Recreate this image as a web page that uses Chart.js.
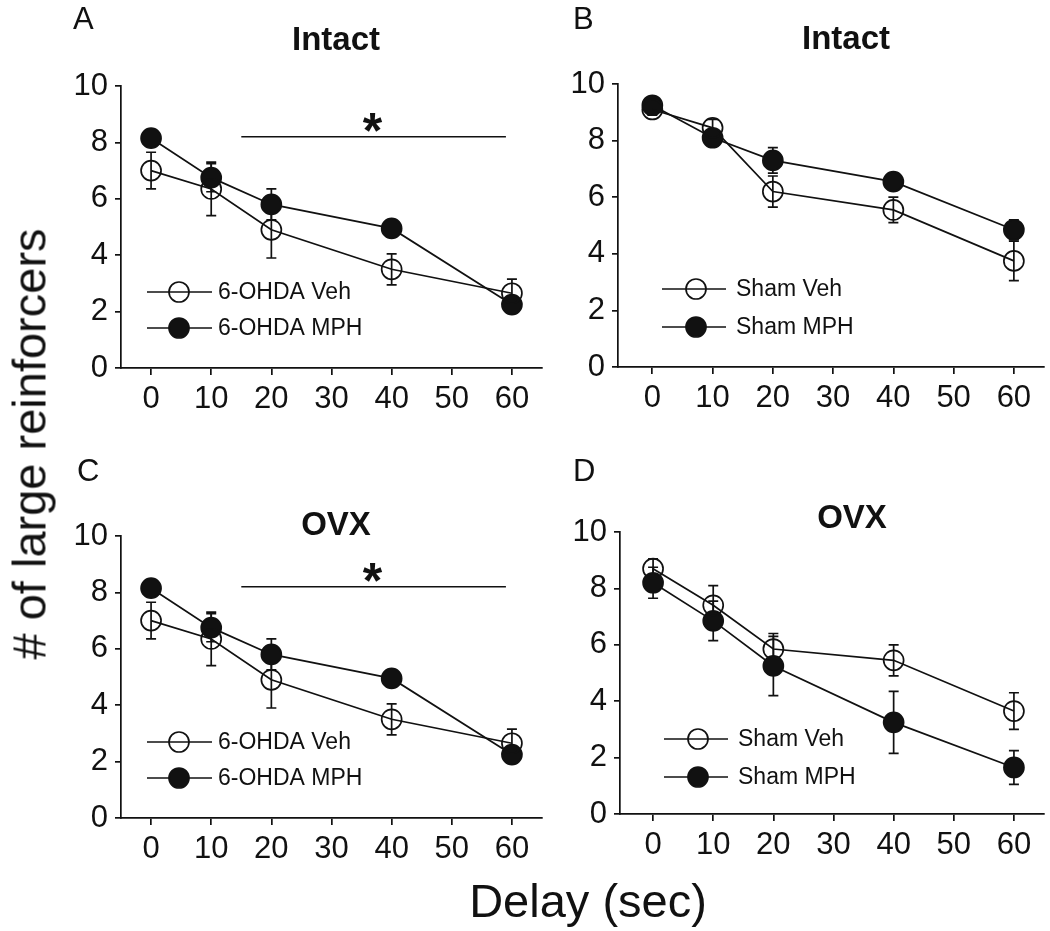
<!DOCTYPE html>
<html>
<head>
<meta charset="utf-8">
<script src="https://cdn.jsdelivr.net/npm/chart.js@4.4.0/dist/chart.umd.min.js"></script>
<style>
  html, body { margin:0; padding:0; background:#fff; }
  body { width:1050px; height:931px; position:relative; overflow:hidden; font-family:'Liberation Sans', Arial, sans-serif; color:#111; }
  canvas { position:absolute; }
  .lbl { position:absolute; white-space:nowrap; line-height:1; }
  .letter { font-size:31px; }
  .ptitle { font-size:33px; font-weight:bold; transform:translate(-50%,-50%); }
  .axt { font-size:47px; transform:translate(-50%,-50%); }
  .yt { font-size:47px; transform:translate(-50%,-50%) rotate(-90deg); }
</style>
</head>
<body>
<canvas id="cA"></canvas>
<canvas id="cB"></canvas>
<canvas id="cC"></canvas>
<canvas id="cD"></canvas>

<div class="lbl letter" style="left:73px;top:3px;">A</div>
<div class="lbl letter" style="left:573px;top:3px;">B</div>
<div class="lbl letter" style="left:77px;top:455px;">C</div>
<div class="lbl letter" style="left:573px;top:455px;">D</div>

<div class="lbl ptitle" style="left:336px;top:38px;">Intact</div>
<div class="lbl ptitle" style="left:846px;top:37px;">Intact</div>
<div class="lbl ptitle" style="left:336px;top:523px;">OVX</div>
<div class="lbl ptitle" style="left:852px;top:516px;">OVX</div>

<div class="lbl axt" style="left:588px;top:900px;">Delay (sec)</div>
<div class="lbl yt" style="left:29px;top:444px;"># of large reinforcers</div>

<script>
// ---- data ----
const delays = [0, 10, 20, 40, 60];
const xTicks = [0, 10, 20, 30, 40, 50, 60];
const yTicks = [0, 2, 4, 6, 8, 10];

const aVeh    = [7.0, 6.35, 4.9, 3.5, 2.65];
const aVehErr = [0.65, 0.95, 1.0, 0.55, 0.5];
const aMph    = [8.15, 6.75, 5.8, 4.95, 2.25];
const aMphErr = [0.25, 0.5, 0.55, 0.3, 0.3];

const bVeh    = [9.1, 8.45, 6.2, 5.55, 3.75];
const bVehErr = [0.2, 0.3, 0.55, 0.45, 0.7];
const bMph    = [9.25, 8.1, 7.3, 6.55, 4.85];
const bMphErr = [0.2, 0.2, 0.45, 0.3, 0.35];

const cVeh    = [7.0, 6.35, 4.9, 3.5, 2.65];
const cVehErr = [0.65, 0.95, 1.0, 0.55, 0.5];
const cMph    = [8.15, 6.75, 5.8, 4.95, 2.25];
const cMphErr = [0.25, 0.5, 0.55, 0.3, 0.3];

const dVeh    = [8.7, 7.4, 5.85, 5.45, 3.65];
const dVehErr = [0.35, 0.7, 0.55, 0.55, 0.65];
const dMph    = [8.2, 6.85, 5.25, 3.25, 1.65];
const dMphErr = [0.55, 0.7, 1.05, 1.1, 0.6];

const lesionLabels = ['6-OHDA Veh', '6-OHDA MPH'];
const shamLabels   = ['Sham Veh', 'Sham MPH'];

// significance bar: [fromX, toX, y]
const sigBar = [15, 59, 8.2];
const sigMark = '*';

// ---- drawing ----
const INK = '#111';

const errorBarPlugin = {
  id: 'errorBars',
  beforeDatasetsDraw(chart) {
    const ctx = chart.ctx, xs = chart.scales.x, ys = chart.scales.y;
    ctx.save();
    ctx.strokeStyle = INK; ctx.lineWidth = 1.7;
    chart.data.datasets.forEach(ds => {
      ds.data.forEach((p, i) => {
        const e = ds.errors[i];
        const px = xs.getPixelForValue(p.x);
        const y1 = ys.getPixelForValue(p.y + e), y2 = ys.getPixelForValue(p.y - e);
        ctx.beginPath();
        ctx.moveTo(px, y1); ctx.lineTo(px, y2);
        ctx.moveTo(px - 5, y1); ctx.lineTo(px + 5, y1);
        ctx.moveTo(px - 5, y2); ctx.lineTo(px + 5, y2);
        ctx.stroke();
      });
    });
    ctx.restore();
  }
};

const extrasPlugin = {
  id: 'extras',
  afterDraw(chart, args, opts) {
    const ctx = chart.ctx, xs = chart.scales.x, ys = chart.scales.y;
    const area = chart.chartArea;
    ctx.save();
    // legend
    const L = opts.legend;
    chart.data.datasets.forEach((ds, i) => {
      const y = area.top + L.dy[i];
      const x0 = area.left + L.x0, x1 = area.left + L.x1, mx = area.left + L.mx;
      ctx.strokeStyle = INK; ctx.lineWidth = 1.7;
      ctx.beginPath(); ctx.moveTo(x0, y); ctx.lineTo(x1, y); ctx.stroke();
      ctx.beginPath(); ctx.arc(mx, y, ds.pointRadius, 0, Math.PI * 2);
      if (ds.pointBackgroundColor !== 'rgba(0,0,0,0)') { ctx.fillStyle = INK; ctx.fill(); }
      ctx.lineWidth = 1.7; ctx.stroke();
      ctx.fillStyle = INK;
      ctx.font = "23px 'Liberation Sans', Arial, sans-serif";
      ctx.textBaseline = 'middle'; ctx.textAlign = 'left';
      ctx.fillText(ds.label, area.left + L.tx, y + 1);
    });
    // significance
    if (opts.sig) {
      const xa = xs.getPixelForValue(sigBar[0]), xb = xs.getPixelForValue(sigBar[1]);
      const yy = ys.getPixelForValue(sigBar[2]);
      ctx.strokeStyle = INK; ctx.lineWidth = 1.7;
      ctx.beginPath(); ctx.moveTo(xa, yy); ctx.lineTo(xb, yy); ctx.stroke();
      ctx.fillStyle = INK;
      ctx.font = "bold 50px 'Liberation Sans', Arial, sans-serif";
      ctx.textAlign = 'center'; ctx.textBaseline = 'alphabetic';
      ctx.fillText(sigMark, xs.getPixelForValue(36.8), yy + 11);
    }
    ctx.restore();
  }
};

function makeChart(id, g, veh, vehErr, mph, mphErr, labels, sig) {
  const cv = document.getElementById(id);
  cv.width = g.w; cv.height = g.h;
  cv.style.left = g.left + 'px'; cv.style.top = g.top + 'px';
  const tickFont = { family: "'Liberation Sans', Arial, sans-serif", size: 31 };
  const mk = (vals, errs, label, filled) => ({
    label,
    data: delays.map((x, i) => ({ x, y: vals[i] })),
    errors: errs,
    showLine: true,
    borderColor: INK, borderWidth: 1.7,
    pointRadius: 10, pointHoverRadius: 10,
    pointBorderColor: INK, pointBorderWidth: 1.7,
    pointBackgroundColor: filled ? INK : 'rgba(0,0,0,0)',
    clip: false
  });
  return new Chart(cv, {
    type: 'scatter',
    data: { datasets: [mk(veh, vehErr, labels[0], false), mk(mph, mphErr, labels[1], true)] },
    options: {
      responsive: false, animation: false, devicePixelRatio: 1,
      layout: { autoPadding: false, padding: { left: 0, top: g.area.top, right: g.w - g.area.right, bottom: 0 } },
      plugins: {
        legend: { display: false }, tooltip: { enabled: false },
        extras: { legend: g.legend, sig }
      },
      scales: {
        x: {
          type: 'linear', min: g.xMin, max: g.xMax,
          afterBuildTicks: s => { s.ticks = xTicks.map(v => ({ value: v })); },
          afterFit: s => { s.height = g.h - g.area.bottom; s.paddingLeft = 0; s.paddingRight = 0; },
          ticks: { font: tickFont, color: INK, padding: 6, maxRotation: 0, autoSkip: false },
          grid: { drawOnChartArea: false, drawTicks: true, tickLength: 7, color: INK, lineWidth: 1.7 },
          border: { display: true, color: INK, width: 1.7 }
        },
        y: {
          min: 0, max: 10,
          afterBuildTicks: s => { s.ticks = yTicks.map(v => ({ value: v })); },
          afterFit: s => { s.width = g.area.left; s.paddingTop = 0; s.paddingBottom = 0; },
          ticks: { font: tickFont, color: INK, padding: 7 },
          grid: { drawOnChartArea: false, drawTicks: true, tickLength: 6, color: INK, lineWidth: 1.7 },
          border: { display: true, color: INK, width: 1.7 }
        }
      }
    },
    plugins: [errorBarPlugin, extrasPlugin]
  });
}

const legA = { x0: 26, x1: 91, mx: 58, tx: 97, dy: [206, 242] };
const legB = { x0: 44, x1: 108, mx: 78, tx: 118, dy: [205, 243] };

makeChart('cA', { left: 0, top: 0, w: 545, h: 440, area: { left: 121, top: 86, right: 542, bottom: 368 }, xMin: -5, xMax: 65, legend: legA },
  aVeh, aVehErr, aMph, aMphErr, lesionLabels, true);
makeChart('cB', { left: 545, top: 0, w: 505, h: 440, area: { left: 73, top: 84, right: 499, bottom: 367 }, xMin: -5.7, xMax: 65, legend: legB },
  bVeh, bVehErr, bMph, bMphErr, shamLabels, false);
makeChart('cC', { left: 0, top: 450, w: 545, h: 440, area: { left: 121, top: 86, right: 542, bottom: 368 }, xMin: -5, xMax: 65, legend: legA },
  cVeh, cVehErr, cMph, cMphErr, lesionLabels, true);
makeChart('cD', { left: 545, top: 450, w: 505, h: 440, area: { left: 75, top: 82, right: 499, bottom: 364 }, xMin: -5.5, xMax: 65, legend: { x0: 44, x1: 108, mx: 78, tx: 118, dy: [207, 245] } },
  dVeh, dVehErr, dMph, dMphErr, shamLabels, false);
</script>
</body>
</html>
